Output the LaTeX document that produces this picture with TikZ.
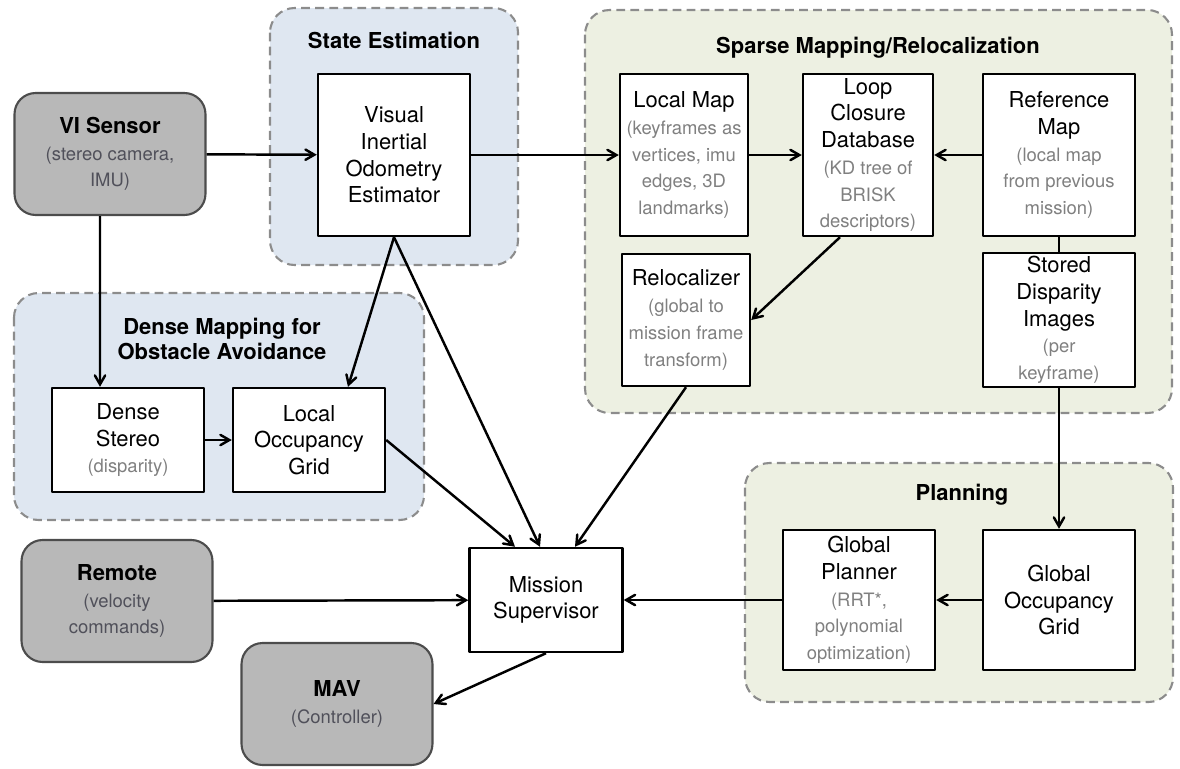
\documentclass[tikz,border=0pt]{standalone}
\usepackage{fontspec}
\setmainfont{TeX Gyre Heros}
\usetikzlibrary{arrows}

\definecolor{groupblue}{RGB}{223,231,241}
\definecolor{groupgreen}{RGB}{237,240,226}
\definecolor{dashgray}{RGB}{140,140,140}
\definecolor{devgray}{RGB}{184,184,184}
\definecolor{subgray}{RGB}{128,128,128}
\definecolor{devsubgray}{RGB}{80,80,90}
\newcommand{\subtxt}{\color{subgray}\fontsize{10.5}{13.5}\selectfont}
\newcommand{\devsub}{\color{devsubgray}\fontsize{10.5}{13.5}\selectfont}

\begin{document}
\begin{tikzpicture}[x=0.02cm,y=-0.02cm,>=angle 60,line join=round,
    font=\fontsize{12.5}{15.2}\selectfont,
    group/.style={draw=dashgray,dash pattern=on 5pt off 3pt,line width=1.2pt,rounded corners=14pt},
    box/.style={draw,line width=1.4pt,fill=white,align=center,inner sep=2pt},
    device/.style={draw=black!70,line width=1.2pt,fill=devgray,rounded corners=12pt,align=center,
      minimum width=3.82cm,minimum height=2.44cm},
    title/.style={font=\fontsize{12.5}{14.5}\selectfont\bfseries,align=center},
    link/.style={->,line width=1.4pt}]
  \useasboundingbox (0,0) rectangle (1180,768);

  % groups
  \draw[group,fill=groupblue] (270,8) rectangle (518,265);
  \draw[group,fill=groupgreen] (585,10) rectangle (1172,413);
  \draw[group,fill=groupblue] (14,293) rectangle (424,520);
  \draw[group,fill=groupgreen] (745,463) rectangle (1173,702);

  \node[title] (tstate) at (394,40) {State Estimation};
  \node[title] (tsparse) at (878,48) {Sparse Mapping/Relocalization};
  \node[title] (tdense) at (222,339) {Dense Mapping for\\Obstacle Avoidance};
  \node[title] (tplan) at (962,495) {Planning};

  % devices
  \node[device] (vi) at (110,154) {\textbf{VI Sensor}\\\devsub (stereo camera,\\\devsub IMU)};
  \node[device] (remote) at (117,601) {\textbf{Remote}\\\devsub (velocity\\\devsub commands)};
  \node[device] (mav) at (337,704) {\textbf{MAV}\\\devsub (Controller)};

  % blocks
  \node[box,minimum width=3.04cm,minimum height=3.24cm] (vio) at (394,155) {Visual\\Inertial\\Odometry\\Estimator};
  \node[box,minimum width=2.56cm,minimum height=3.24cm] (lmap) at (684,155) {Local Map\\\subtxt (keyframes as\\\subtxt vertices, imu\\\subtxt edges, 3D\\\subtxt landmarks)};
  \node[box,minimum width=2.6cm,minimum height=3.24cm] (loop) at (868,155) {Loop\\Closure\\Database\\\subtxt (KD tree of\\\subtxt BRISK\\\subtxt descriptors)};
  \node[box,minimum width=3.04cm,minimum height=3.24cm] (refmap) at (1059,155) {Reference\\Map\\\subtxt (local map\\\subtxt from previous\\\subtxt mission)};
  \node[box,minimum width=2.56cm,minimum height=2.64cm] (reloc) at (686,320) {Relocalizer\\\subtxt (global to\\\subtxt mission frame\\\subtxt transform)};
  \node[box,minimum width=3.04cm,minimum height=2.64cm] (stored) at (1059,320) {Stored\\Disparity\\Images\\\subtxt (per\\\subtxt keyframe)};
  \node[box,minimum width=3.04cm,minimum height=2.08cm] (dstereo) at (128,440) {Dense\\Stereo\\\subtxt (disparity)};
  \node[box,minimum width=3.04cm,minimum height=2.08cm] (locc) at (309,440) {Local\\Occupancy\\Grid};
  \node[box,minimum width=3.04cm,minimum height=2.8cm] (gplan) at (859,600) {Global\\Planner\\\subtxt (RRT*,\\\subtxt polynomial\\\subtxt optimization)};
  \node[box,minimum width=3.04cm,minimum height=2.8cm] (gocc) at (1059,600) {Global\\Occupancy\\Grid};
  \node[box,minimum width=3.06cm,minimum height=2.08cm] (mission) at (546,600) {Mission\\Supervisor};

  % connections
  \draw[link] (vi) -- (vio);
  \draw[link] ([xshift=-0.2cm]vi.south) -- ([xshift=-0.56cm]dstereo.north);
  \draw[link] (vio) -- (lmap);
  \draw[link] (lmap) -- (loop);
  \draw[link] (refmap) -- (loop);
  \draw[link] ([xshift=-0.56cm]loop.south) -- (reloc.east);
  \draw[line width=1.4pt] (refmap) -- (stored);
  \draw[link] (stored) -- (gocc);
  \draw[link] (gocc) -- (gplan);
  \draw[link] (gplan) -- (mission);
  \draw[link] (remote) -- (mission);
  \draw[link] (mission.south) -- (mav.east);
  \draw[link] (vio.south) -- ([xshift=0.78cm]locc.north);
  \draw[link] (vio.south) -- ([xshift=-0.12cm]mission.north);
  \draw[link] (dstereo) -- (locc);
  \draw[link] (locc.east) -- ([xshift=-0.62cm]mission.north);
  \draw[link] (reloc.south) -- ([xshift=0.58cm]mission.north);
\end{tikzpicture}
\end{document}
